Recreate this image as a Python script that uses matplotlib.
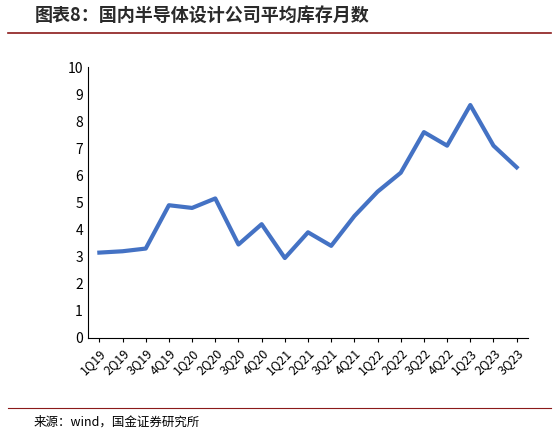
import matplotlib.pyplot as plt
from matplotlib.lines import Line2D

plt.rcParams['font.family'] = ['Noto Sans CJK SC', 'DejaVu Sans']

quarters = ["1Q19", "2Q19", "3Q19", "4Q19", "1Q20", "2Q20", "3Q20", "4Q20", "1Q21", "2Q21",
            "3Q21", "4Q21", "1Q22", "2Q22", "3Q22", "4Q22", "1Q23", "2Q23", "3Q23"]
months = [3.15, 3.2, 3.3, 4.9, 4.8, 5.15, 3.45, 4.2, 2.95, 3.9,
          3.4, 4.5, 5.4, 6.1, 7.6, 7.1, 8.6, 7.1, 6.3]

fig = plt.figure(figsize=(5.59, 4.36), dpi=100)
ax = fig.add_axes([0.157, 0.225, 0.788, 0.621])
ax.plot(range(len(quarters)), months, color="#4472C4", lw=3, solid_joinstyle="round")
ax.set_ylim(0, 10)
ax.set_yticks(range(11))
ax.set_xlim(-0.5, len(quarters) - 0.5)
ax.set_xticks(range(len(quarters)))
ax.set_xticklabels(quarters, rotation=45, ha="right", rotation_mode="anchor", fontsize=9)
ax.tick_params(axis="y", labelsize=10, length=0)
ax.tick_params(axis="x", length=3, direction="out")
for s in ["top", "right"]:
    ax.spines[s].set_visible(False)

fig.text(0.062, 0.965, "图表8：国内半导体设计公司平均库存月数", fontsize=13, fontweight="bold",
         style="italic", color="#2a2a2a", va="center")
fig.add_artist(Line2D([0.015, 0.985], [0.925, 0.925], color="#8B1A1A", lw=1.2))
fig.add_artist(Line2D([0.015, 0.985], [0.065, 0.065], color="#8B1A1A", lw=0.8))
fig.text(0.06, 0.032, "来源：wind，国金证券研究所", fontsize=9, va="center")
fig.savefig("out.png")
